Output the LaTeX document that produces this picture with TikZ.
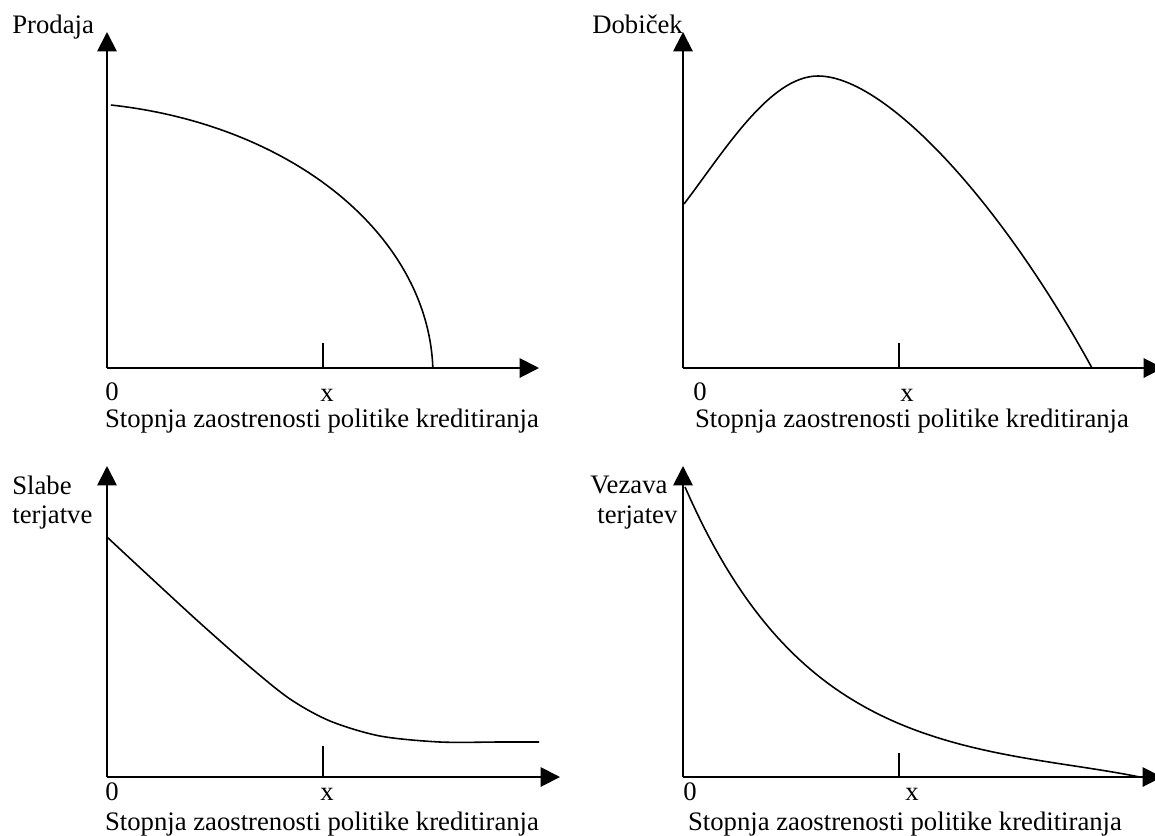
\documentclass[tikz,border=0pt]{standalone}
\usepackage{fontspec}
\setmainfont{Liberation Serif}
\usepackage{tikz}
\usetikzlibrary{arrows.meta}
\usepackage{xcolor}

\tikzset{
  os/.style={black, line width=1.1pt, -{Triangle[length=11pt,width=11pt]}},
  krivulja/.style={black, line width=0.9pt},
  oznaka/.style={black, line width=0.9pt},
  napis/.style={inner sep=0pt, font=\fontsize{15.2pt}{18pt}\selectfont}
}

\begin{document}
\begin{tikzpicture}[x=0.02cm, y=-0.02cm]
	\useasboundingbox (0,0) rectangle (1155,835);
	% prodaja
	\coordinate (o1) at (107,368);
	\coordinate (y1) at (107,32);
	\coordinate (x1) at (539,368);
	\coordinate (t1) at (323,343);
	\draw[os] (o1)--(y1);
	\draw[os] (o1)--(x1);
	\draw[oznaka] (t1)--(t1 |- o1);
	\draw[krivulja] plot [domain=81.5:1.47, samples=80] ({55+378*cos(\x)}, {375-273*sin(\x)});
	\node[napis, anchor=base west] (prodaja) at (12,33) {Prodaja};
	\node[napis, anchor=base] (nic1) at (112,400) {0};
	\node[napis, anchor=base] (iks1) at (327,401) {x};
	\node[napis, anchor=base] (opis1) at (322,427) {Stopnja zaostrenosti politike kreditiranja};
	% dobicek
	\coordinate (o2) at (683,368);
	\coordinate (y2) at (683,32);
	\coordinate (x2) at (1163,368);
	\coordinate (t2) at (899,343);
	\draw[os] (o2)--(y2);
	\draw[os] (o2)--(x2);
	\draw[oznaka] (t2)--(t2 |- o2);
	\draw[krivulja] (684,204) .. controls (725,150) and (770,76) .. (818,76) .. controls (885,76) and (1000,200) .. (1092,368);
	\node[napis, anchor=base west] (dobicek) at (592,33) {Dobiček};
	\node[napis, anchor=base] (nic2) at (700,400) {0};
	\node[napis, anchor=base] (iks2) at (907,401) {x};
	\node[napis, anchor=base] (opis2) at (912,427) {Stopnja zaostrenosti politike kreditiranja};
	% slabe terjatve
	\coordinate (o3) at (107,777);
	\coordinate (y3) at (107,466);
	\coordinate (x3) at (560,777);
	\coordinate (t3) at (323,746);
	\draw[os] (o3)--(y3);
	\draw[os] (o3)--(x3);
	\draw[oznaka] (t3)--(t3 |- o3);
	\draw[krivulja] plot [smooth] coordinates {(107,537) (150,577) (200,623) (250,667) (290,699) (330,721) (380,736) (440,742) (500,742) (539,742)};
	\node[napis, anchor=base west] (slabe) at (12,494) {Slabe};
	\node[napis, anchor=base west] (terjatve) at (12,523) {terjatve};
	\node[napis, anchor=base] (nic3) at (112,800) {0};
	\node[napis, anchor=base] (iks3) at (327,800) {x};
	\node[napis, anchor=base] (opis3) at (322,830) {Stopnja zaostrenosti politike kreditiranja};
	% vezava terjatev
	\coordinate (o4) at (683,777);
	\coordinate (y4) at (683,466);
	\coordinate (x4) at (1162,777);
	\coordinate (t4) at (899,753);
	\draw[os] (o4)--(y4);
	\draw[os] (o4)--(x4);
	\draw[oznaka] (t4)--(t4 |- o4);
	\draw[krivulja] plot [domain=0:455, samples=80] ({685+\x}, {777-290*exp(-0.0079*\x)+8*(\x/455)^8});
	\node[napis, anchor=base west] (vezava) at (590,493) {Vezava};
	\node[napis, anchor=base west] (terjatev) at (597,523) {terjatev};
	\node[napis, anchor=base] (nic4) at (690,800) {0};
	\node[napis, anchor=base] (iks4) at (912,800) {x};
	\node[napis, anchor=base] (opis4) at (905,830) {Stopnja zaostrenosti politike kreditiranja};
\end{tikzpicture}
\end{document}
